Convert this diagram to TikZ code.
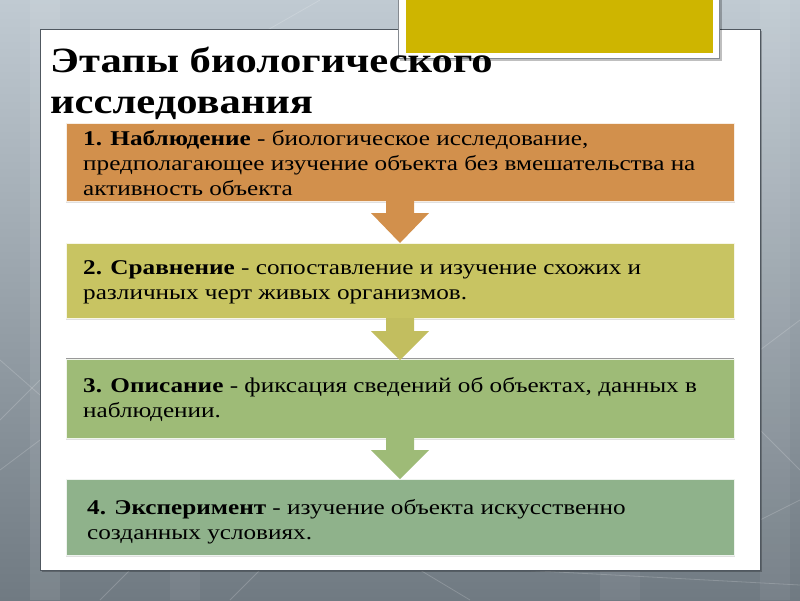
\documentclass[tikz,border=0pt]{standalone}
\usepackage{fontspec}
\setmainfont{Liberation Serif}[FakeStretch=1.2]
\usetikzlibrary{calc}
\definecolor{bgtop}{RGB}{192,202,210}
\definecolor{bgbot}{RGB}{112,122,130}
\definecolor{panelline}{RGB}{80,88,96}
\definecolor{ybox}{RGB}{206,181,0}
\definecolor{cOne}{RGB}{210,144,76}
\definecolor{cTwo}{RGB}{200,196,98}
\definecolor{cThree}{RGB}{158,187,119}
\definecolor{cFour}{RGB}{143,178,139}
\tikzset{
  stagebox/.style={fill=#1, draw=white!85!#1, line width=0.6pt},
  stagetext/.style={anchor=west, align=left, inner sep=0pt,
    font=\fontsize{21}{25}\selectfont, text=black},
  titletext/.style={anchor=base west, inner sep=0pt,
    font=\fontsize{35.5}{40}\selectfont\bfseries, text=black},
  bgline/.style={white, opacity=0.18, line width=0.8pt}
}
\newcommand{\downarrowshape}[4]{% color, top y, head base y, tip y
  \fill[#1] (386,#2) -- (414,#2) -- (414,#3) -- (429,#3) -- (400,#4) -- (371,#3) -- (386,#3) -- cycle;}
\begin{document}
\begin{tikzpicture}[x=1pt,y=-1pt]
\useasboundingbox (0,0) rectangle (800,600);
% background
\shade[top color=bgtop, bottom color=bgbot] (0,0) rectangle (800,600);
\fill[white, opacity=0.08] (30,0) rectangle (60,600);
\fill[white, opacity=0.06] (760,0) rectangle (790,600);
\fill[white, opacity=0.05] (170,570) rectangle (200,600);
\fill[white, opacity=0.05] (600,570) rectangle (640,600);
\draw[bgline] (0,420) -- (40,380);
\draw[bgline] (0,470) -- (40,440);
\draw[bgline] (0,360) -- (40,395);
\draw[bgline] (760,350) -- (800,320);
\draw[bgline] (760,430) -- (800,470);
\draw[bgline] (760,520) -- (800,500);
\draw[bgline] (100,600) -- (130,570);
\draw[bgline] (230,600) -- (260,570);
\draw[bgline] (420,570) -- (470,600);
\draw[bgline] (520,570) -- (800,585);
\draw[bgline] (250,40) -- (320,0);
% panel
\fill[black, opacity=0.25] (42,31) rectangle (762,572);
\draw[panelline, fill=white, line width=1pt] (40,29) rectangle (760,570);
% yellow box
\fill[black, opacity=0.25] (400,-5) rectangle (722,61);
\draw[panelline!70, fill=white, line width=0.8pt] (398,-5) rectangle (719.5,58.5);
\fill[ybox] (405.5,-5) rectangle (713,53);
% title
\node[titletext] (title1) at (50,72) {Этапы биологического};
\node[titletext] (title2) at (50,113) {исследования};
% boxes
\fill[black, opacity=0.12] (66,124) rectangle (735,203);
\path[stagebox=cOne] (66,123) rectangle (734,201);
\fill[black, opacity=0.12] (66,244) rectangle (735,320);
\path[stagebox=cTwo] (66,243) rectangle (734,318);
\fill[black, opacity=0.12] (66,359) rectangle (735,440);
\path[stagebox=cThree] (66,359) rectangle (734,438);
\draw[gray!80, line width=0.8pt] (66,358.5) -- (734,358.5);
\fill[black, opacity=0.12] (66,480) rectangle (735,557);
\path[stagebox=cFour] (66,479) rectangle (734,555);
% arrows
\downarrowshape{cOne}{201}{213}{243}
\downarrowshape{cTwo!97!black}{318}{331}{360}
\downarrowshape{cThree}{438}{450}{479}
% texts
\node[stagetext] (t1) at (83,165) {\strut\textbf{1. Наблюдение} - биологическое исследование,\\
предполагающее изучение объекта без вмешательства на\\
активность объекта\strut};
\node[stagetext] (t2) at (83,282) {\strut\textbf{2. Сравнение} - сопоставление и изучение схожих и\\
различных черт живых организмов.\strut};
\node[stagetext] (t3) at (83,400) {\strut\textbf{3. Описание} - фиксация сведений об объектах, данных в\\
наблюдении.\strut};
\node[stagetext] (t4) at (87,522) {\strut\textbf{4. Эксперимент} - изучение объекта искусственно\\
созданных условиях.\strut};
\end{tikzpicture}
\end{document}
